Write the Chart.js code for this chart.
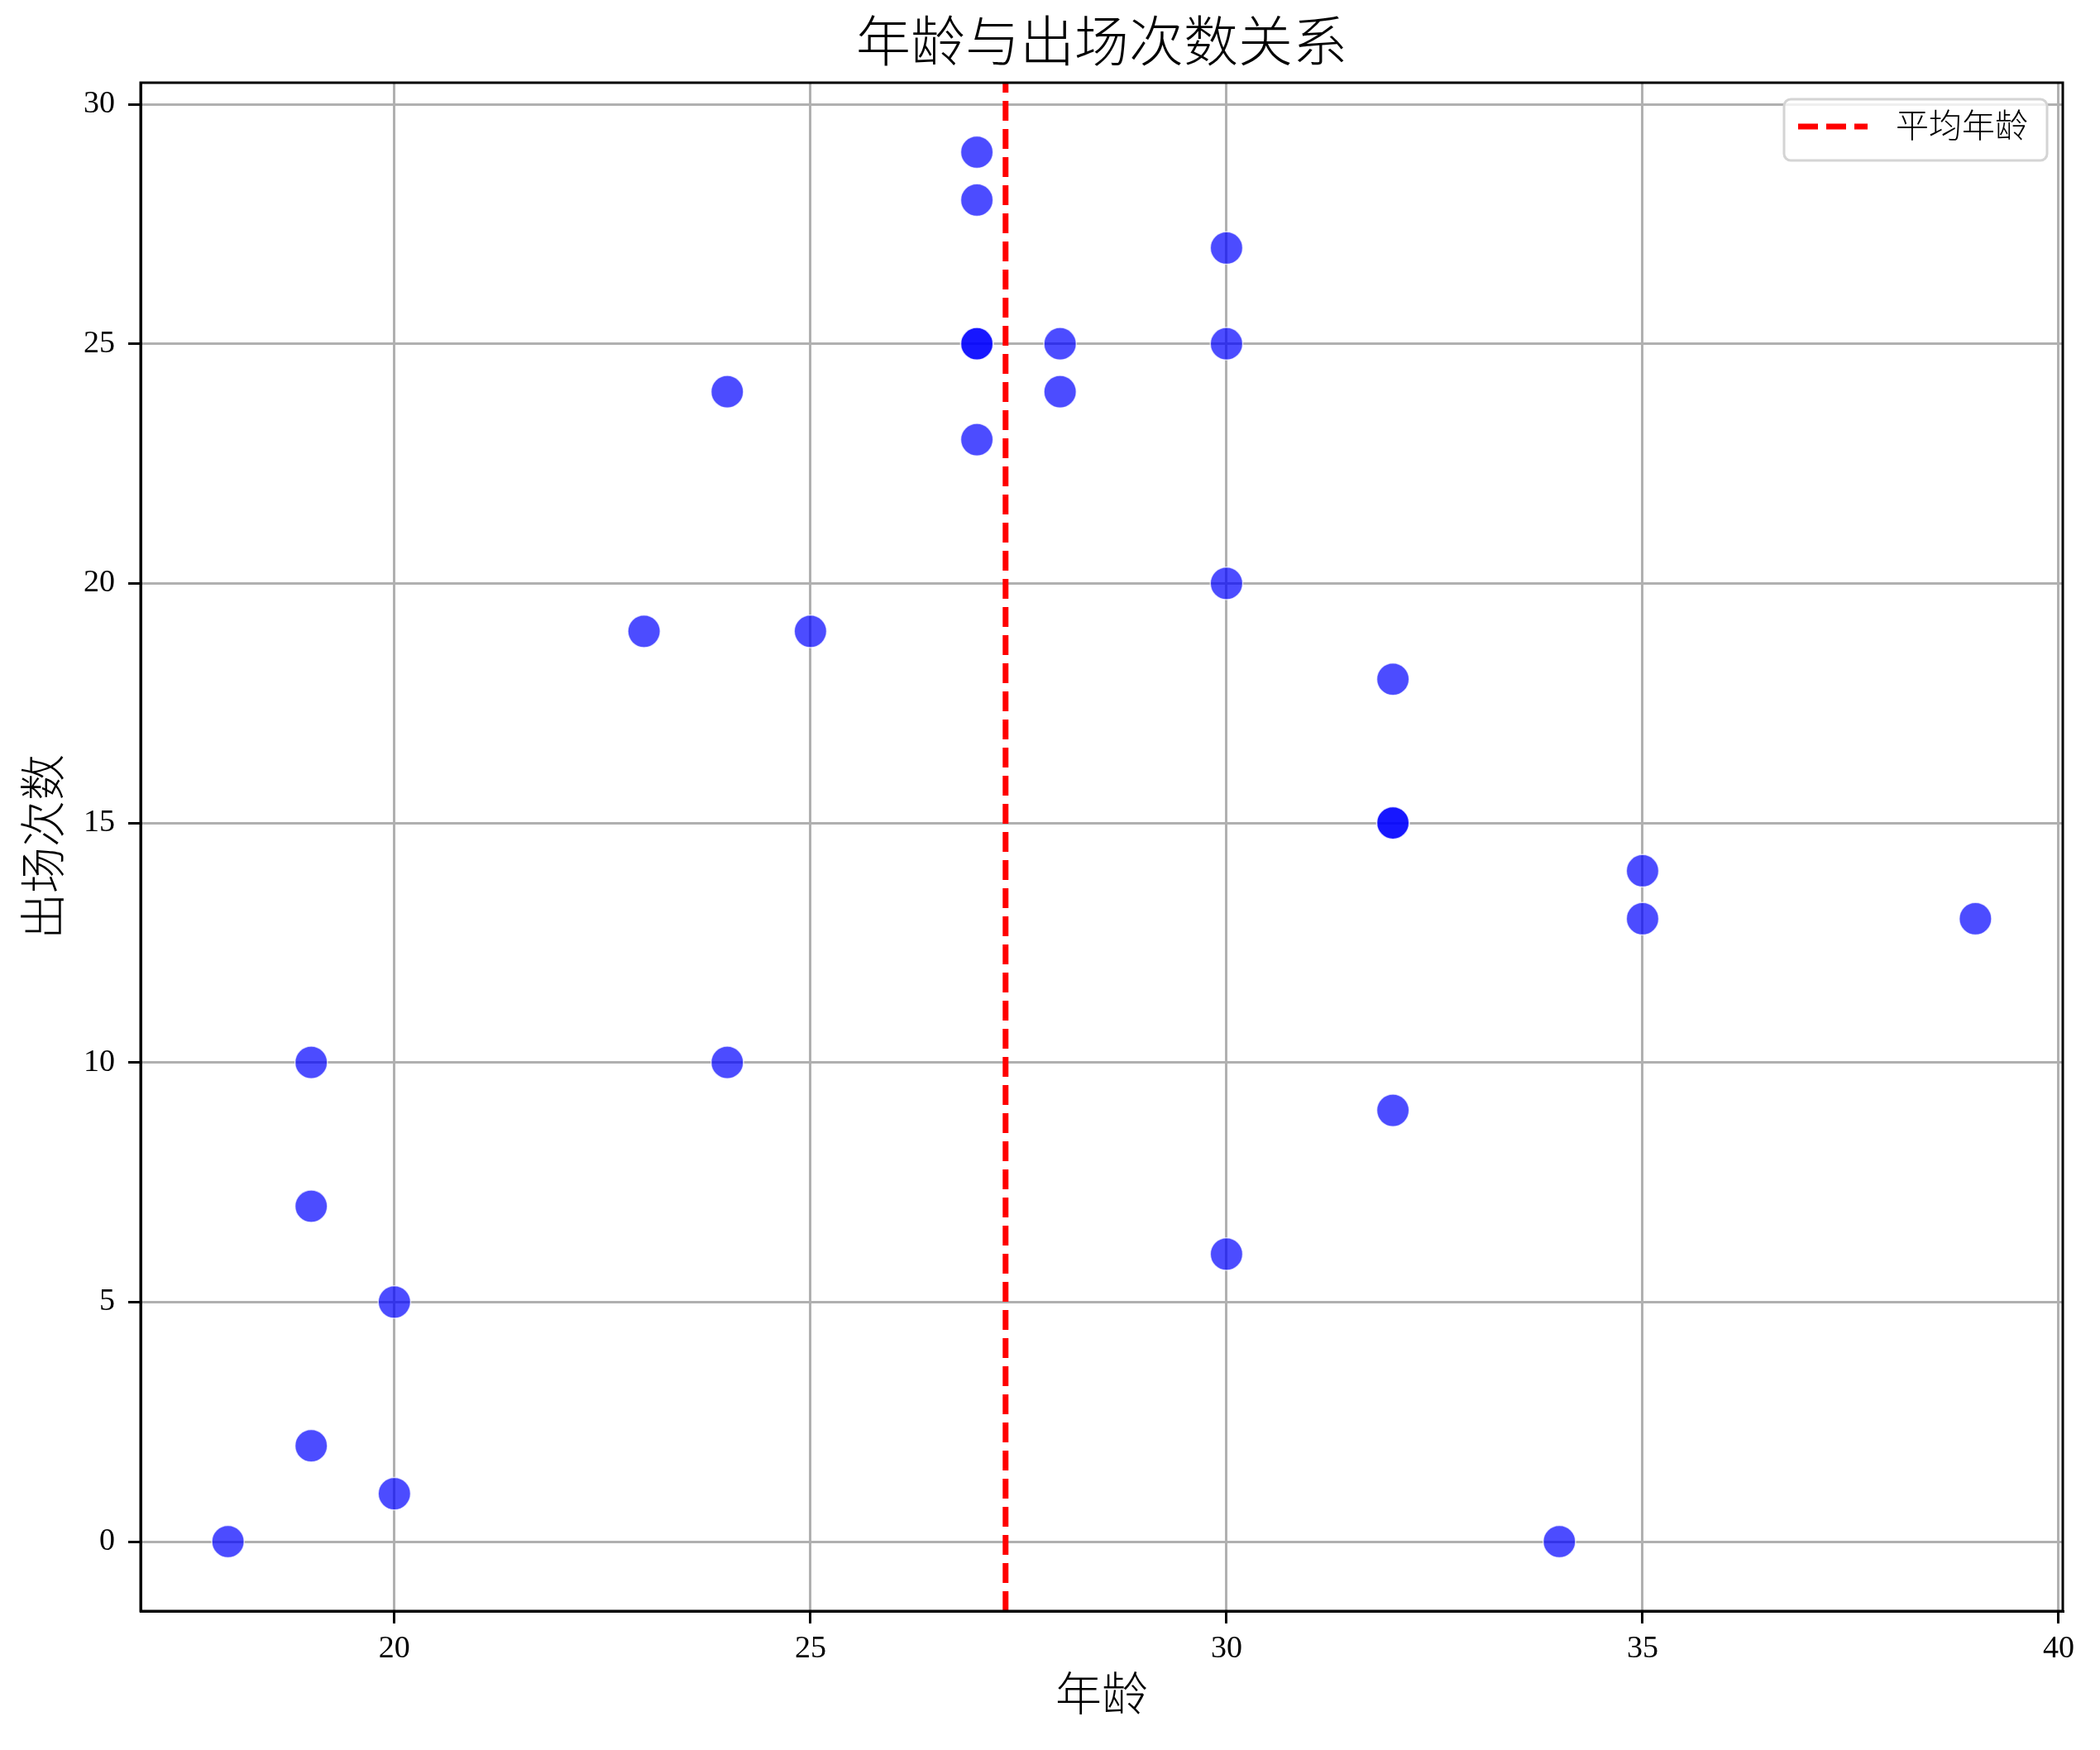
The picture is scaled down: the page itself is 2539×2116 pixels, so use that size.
<!DOCTYPE html>
<html>
<head>
<meta charset="utf-8">
<script src="https://cdn.jsdelivr.net/npm/chart.js@4/dist/chart.umd.min.js"></script>
<style>
  body { margin: 0; background: #fff; }
  #wrap { width: 2539px; height: 2116px; }
</style>
</head>
<body>
<div id="wrap"><canvas id="myChart" width="2539" height="2116"></canvas></div>
<script>
// player ages and appearances
const ages        = [18, 19, 19, 19, 20, 20, 23, 24, 24, 25, 27, 27, 27, 27, 27, 28, 28, 30, 30, 30, 30, 32, 32, 32, 32, 34, 35, 35, 39];
const appearances = [ 0,  2,  7, 10,  1,  5, 19, 24, 10, 19, 29, 28, 25, 25, 23, 25, 24, 27, 25, 20,  6, 18, 15, 15,  9,  0, 14, 13, 13];
const xTicks = [20, 25, 30, 35, 40];
const yTicks = [0, 5, 10, 15, 20, 25, 30];
const xRange = [16.95, 40.05];
const yRange = [-1.45, 30.45];

const titleText = '年龄与出场次数关系';
const xLabel = '年龄';
const yLabel = '出场次数';
const meanLabel = '平均年龄';

const FONT = '"Liberation Serif", "Noto Sans CJK SC", serif';

let pts = []
for (let i = 0; i < ages.length; i++) pts.push({x: ages[i], y: appearances[i]});
let meanAge = ages.reduce((a, b) => a + b, 0) / ages.length;

// title over the axes, box round the plot, legend in the top right corner
const frame = {
  id: 'frame',
  afterDraw(chart) {
    const c = chart.ctx, a = chart.chartArea;
    c.save();
    c.fillStyle = '#000';
    c.font = '300 66px ' + FONT;
    c.textAlign = 'center';
    c.textBaseline = 'middle';
    c.fillText(titleText, (a.left + a.right) / 2, 57);

    c.strokeStyle = '#000';
    c.lineWidth = 3;
    c.strokeRect(a.left, a.top, a.right - a.left, a.bottom - a.top);

    // legend
    const bx = a.right - 337, by = a.top + 20, bw = 318, bh = 74;
    c.fillStyle = 'rgba(255,255,255,0.8)';
    c.strokeStyle = '#d4d4d4';
    c.lineWidth = 3;
    c.beginPath();
    c.roundRect(bx, by, bw, bh, 8);
    c.fill();
    c.stroke();
    c.strokeStyle = 'red';
    c.lineWidth = 7;
    c.setLineDash([24, 10]);
    c.beginPath();
    c.moveTo(bx + 17, by + 33);
    c.lineTo(bx + 101, by + 33);
    c.stroke();
    c.setLineDash([]);
    c.fillStyle = '#000';
    c.font = '300 40px ' + FONT;
    c.textAlign = 'left';
    c.fillText(meanLabel, bx + 135, by + 35);
    c.restore();
  }
};

let ctx = document.getElementById("myChart").getContext("2d");
let chart = new Chart(ctx, {
  type: 'scatter',
  data: {
    datasets: [{
      label: 'players',
      data: pts,
      backgroundColor: 'rgba(0,0,255,0.7)',
      borderColor: 'rgba(255,255,255,0.7)',
      borderWidth: 1.5,
      pointRadius: 19.6,
      pointHoverRadius: 19.6
    },
    {
      type: 'line',
      label: meanLabel,
      data: [{x: meanAge, y: yRange[0]}, {x: meanAge, y: yRange[1]}],
      borderColor: 'red',
      borderWidth: 7,
      borderDash: [24, 10],
      pointRadius: 0,
      fill: false
    }]
  },
  options: {
    responsive: false,
    animation: false,
    layout: { padding: { left: 0, right: 45, top: 100, bottom: 0 } },
    plugins: {
      legend: { display: false },
      tooltip: { enabled: false },
      title: { display: false }
    },
    scales: {
      x: {
        type: 'linear',
        min: xRange[0],
        max: xRange[1],
        afterBuildTicks: s => { s.ticks = xTicks.map(v => ({value: v})); },
        afterFit: s => { s.height = 168; },
        ticks: { color: '#000', font: { size: 38, family: FONT }, padding: 8, maxRotation: 0 },
        grid: { color: '#b0b0b0', lineWidth: 3, tickColor: '#000', tickWidth: 3, tickLength: 15 },
        border: { color: '#000', width: 3 },
        title: { display: true, text: xLabel, color: '#000', font: { size: 56, family: FONT, weight: 300 }, padding: { top: 0, bottom: 29 } }
      },
      y: {
        type: 'linear',
        min: yRange[0],
        max: yRange[1],
        afterBuildTicks: s => { s.ticks = yTicks.map(v => ({value: v})); },
        afterFit: s => { s.width = 170; },
        ticks: { color: '#000', font: { size: 38, family: FONT }, padding: 16 },
        grid: { color: '#b0b0b0', lineWidth: 3, tickColor: '#000', tickWidth: 3, tickLength: 15 },
        border: { color: '#000', width: 3 },
        title: { display: true, text: yLabel, color: '#000', font: { size: 56, family: FONT, weight: 300 }, padding: { top: 24, bottom: 0 } }
      }
    }
  },
  plugins: [frame]
});
</script>
</body>
</html>
